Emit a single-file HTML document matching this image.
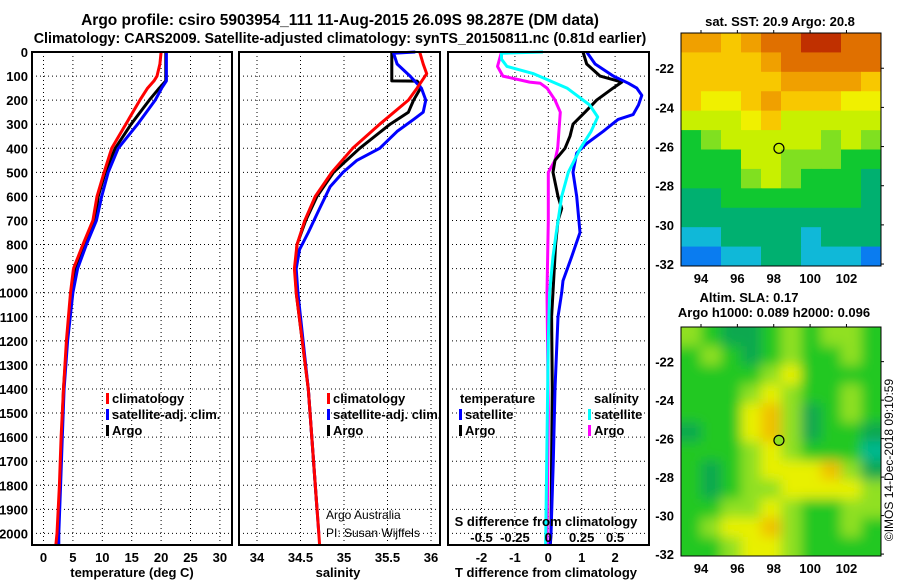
<!DOCTYPE html>
<html><head><meta charset="utf-8"><style>
body{margin:0;background:#fff;}
svg{display:block;font-family:"Liberation Sans",sans-serif;}
.b{font-weight:bold;font-size:13px;}
.t{font-weight:bold;font-size:14px;}
</style></head><body>
<svg id="c" width="900" height="580" viewBox="0 0 900 580">
<text class="t" x="340" y="25" text-anchor="middle" style="font-size:15.5px">Argo profile: csiro 5903954_111 11-Aug-2015 26.09S 98.287E (DM data)</text>
<text class="t" x="340" y="43" text-anchor="middle" style="font-size:14.3px">Climatology: CARS2009. Satellite-adjusted climatology: synTS_20150811.nc (0.81d earlier)</text>
<g id="plots"></g>
</svg>
<script>
// ---------- profile data ----------
const tDepth=[0,50,100,120,150,200,300,400,500,600,700,800,900,1000,1200,1400,1600,1800,2000,2050];
const tClim=[20.0,19.8,19.3,18.8,17.7,16.4,14.0,11.6,10.3,9.1,8.4,6.7,5.1,4.6,3.9,3.4,3.0,2.7,2.3,2.1];
const tSat=[20.9,20.9,20.9,20.9,20.1,19.0,16.0,12.7,11.0,9.9,9.0,7.3,5.8,5.0,4.1,3.5,3.2,2.9,2.6,2.6];
const tArgo=[20.8,20.8,20.8,20.8,19.7,18.0,14.9,12.2,10.5,9.3,8.8,6.9,5.4,4.8,4.0,3.4,3.1,2.8,2.5,2.5];
const sClimDepth=[0,50,90,150,200,300,400,500,600,700,800,900,1000,1400,2000,2050];
const sClim=[35.87,35.91,35.95,35.84,35.74,35.41,35.10,34.86,34.67,34.55,34.46,34.43,34.45,34.59,34.71,34.72];
const sSatDepth=[0,5,50,100,150,200,250,280,330,400,450,500,560,650,750,820,900,1000,1400,2000];
const sSat=[35.82,35.57,35.61,35.76,35.89,35.94,35.91,35.80,35.61,35.41,35.15,34.99,34.84,34.72,34.59,34.49,34.45,34.47,34.59,34.71];
const sArgoDepth=[0,120,121,130,150,200,250,300,400,500,600,700,800,900,1000,1400,1900];
const sArgo=[35.55,35.55,35.84,35.86,35.88,35.80,35.74,35.53,35.18,34.88,34.69,34.56,34.46,34.44,34.45,34.59,34.69];
const dTSatDepth=[0,50,100,130,150,180,220,260,280,330,380,420,500,600,750,850,950,1000,1100,1400,1700,2000,2050];
const dTSat=[1.15,1.40,1.95,2.40,2.65,2.80,2.70,2.54,2.09,1.64,1.15,0.85,0.74,0.85,0.95,0.70,0.44,0.40,0.29,0.20,0.15,0.08,0.05];
const dTArgoDepth=[0,50,100,125,150,200,250,300,350,400,450,500,600,650,700,800,900,1100,1400,1700,2000,2050];
const dTArgo=[1.04,1.15,1.55,2.2,1.94,1.45,1.10,0.74,0.65,0.50,0.20,0.14,0.29,0.40,0.29,0.22,0.18,0.10,0.12,0.10,0.08,0.06];
const dSSatDepth=[0,5,30,60,90,150,220,270,330,400,500,600,750,850,1000,1200,2050];
const dSSat=[-0.04,-0.35,-0.35,-0.31,-0.11,0.14,0.31,0.37,0.32,0.24,0.15,0.10,0.06,0.035,0.01,0.0,-0.02];
const dSArgoDepth=[0,60,100,125,130,150,200,250,400,450,500,700,1000,1500,2050];
const dSArgo=[-0.35,-0.38,-0.34,-0.14,-0.06,-0.01,0.05,0.09,0.07,0.05,0.0,0.0,-0.01,0.0,-0.01];
const depthTicks=[0,100,200,300,400,500,600,700,800,900,1000,1100,1200,1300,1400,1500,1600,1700,1800,1900,2000];
const tTicks=[0,5,10,15,20,25,30];
const sTicks=[34,34.5,35,35.5,36];
const dtTicks=[-2,-1,0,1,2];
const dsTicks=["-0.5","-0.25","0","0.25","0.5"];
// ---------- map data ----------
const sstGrid=[
[9,9,8,9,10,10,11,11,10,10],
[8,8,8,8,9,10,10,10,10,10],
[8,8,8,8,8,9,9,9,9,8],
[8,7,7,8,9,8,8,8,7,7],
[6,6,6,7,8,6,6,6,6,6],
[4,5,6,6,6,6,6,5,6,5],
[4,4,4,6,6,5,5,5,4,4],
[4,4,4,5,6,5,4,4,4,3],
[3,3,4,4,4,4,4,4,4,3],
[3,3,3,3,3,3,3,3,3,3],
[2,2,3,3,3,3,2,3,3,3],
[1,1,2,2,3,3,2,2,2,1]];
const slaGrid=[
[3,2,1,1,2,3,2,3,3,2],
[2,3,2,1,2,3,2,2,3,2],
[2,2,2,2,3,4,2,2,2,2],
[2,2,2,3,4,3,2,2,3,2],
[2,2,2,4,5,3,1,2,3,2],
[1,2,2,4,5,3,1,2,2,1],
[2,2,2,3,4,3,2,2,2,0],
[2,1,2,3,4,4,4,5,3,1],
[2,1,2,3,3,4,4,4,4,3],
[2,2,3,3,4,3,2,2,3,3],
[2,3,4,4,5,3,2,2,3,2],
[2,2,3,4,4,3,2,2,2,2]];
const latTicks=[-22,-24,-26,-28,-30,-32];
const lonTicks=[94,96,98,100,102];
const argoLat=-26.09, argoLon=98.287;

const NS="http://www.w3.org/2000/svg";
const root=document.getElementById('plots');
function el(tag,attrs,parent,text){const e=document.createElementNS(NS,tag);for(const k in attrs)e.setAttribute(k,attrs[k]);if(text!==undefined)e.textContent=text;(parent||root).appendChild(e);return e;}
const yD=d=>52+d*0.2407;
const yTop=52,yBot=545;
function panel(name){
  const g=el('g',{});
  
  
  return g;
}
function grid(g,x0,x1,xs){
  depthTicks.forEach(d=>{const l=el('line',{x1:x0,x2:x1,y1:yD(d),y2:yD(d),stroke:'#000','stroke-width':1,'stroke-dasharray':'1,3'},g);
  });
  xs.forEach(x=>{const l=el('line',{x1:x,x2:x,y1:yTop,y2:yBot,stroke:'#000','stroke-width':1,'stroke-dasharray':'1,3'},g);
  });
}
function frame(g,x0,x1){const r=el('rect',{x:x0,y:yTop,width:x1-x0,height:yBot-yTop,fill:'none',stroke:'#000','stroke-width':2},g);
}
function line(g,vals,depths,xf,color,name){
  const pts=vals.map((v,i)=>xf(v).toFixed(1)+','+yD(depths[i]).toFixed(1)).join(' ');
  const p=el('polyline',{points:pts,fill:'none',stroke:color,'stroke-width':3,'stroke-linejoin':'round'},g);
  
}
function txt(g,x,y,s,name,anchor,cls,fill){const t=el('text',{x:x,y:y,'text-anchor':anchor||'start',class:cls||'b',fill:fill||'#000'},g,s);
return t;}
function legend(g,x,y,color,label,name){
  const r=el('rect',{x:x,y:y-10,width:3,height:11,fill:color},g);
  
  txt(g,x+6,y,label,name);
}
// Panel 1 temperature
const xT=v=>43.5+v*5.88;
let g1=panel('temperature-panel');
grid(g1,32,232,tTicks.map(xT));
line(g1,tArgo,tDepth,xT,'#000','argo-temperature-line');
line(g1,tSat,tDepth,xT,'#0000ff','satellite-temperature-line');
line(g1,tClim,tDepth,xT,'#ff0000','climatology-temperature-line');
frame(g1,32,232);
depthTicks.forEach(d=>{txt(g1,28,yD(d)+5,String(d),'depth-tick-label','end');});
tTicks.forEach(v=>txt(g1,xT(v),562,String(v),'temperature-tick-label','middle'));
txt(g1,132,577,'temperature (deg C)','temperature-axis-title','middle');
legend(g1,106,403,'#ff0000','climatology','legend-climatology');
legend(g1,106,419,'#0000ff','satellite-adj. clim.','legend-satellite-adj');
legend(g1,106,435,'#000','Argo','legend-argo');
// Panel 2 salinity
const xS=v=>257+(v-34)*87;
let g2=panel('salinity-panel');
grid(g2,239,440,sTicks.map(xS));
line(g2,sArgo,sArgoDepth,xS,'#000','argo-salinity-line');
line(g2,sSat,sSatDepth,xS,'#0000ff','satellite-salinity-line');
line(g2,sClim,sClimDepth,xS,'#ff0000','climatology-salinity-line');
frame(g2,239,440);
sTicks.forEach(v=>txt(g2,xS(v),562,String(v),'salinity-tick-label','middle'));
txt(g2,338,577,'salinity','salinity-axis-title','middle');
legend(g2,327,403,'#ff0000','climatology','legend-climatology-s');
legend(g2,327,419,'#0000ff','satellite-adj. clim.','legend-satellite-adj-s');
legend(g2,327,435,'#000','Argo','legend-argo-s');
const a1=txt(g2,326,519,'Argo Australia','credit-argo-australia','start','');a1.setAttribute('style','font-size:12px;font-weight:normal');
const a2=txt(g2,326,537,'PI: Susan Wijffels','credit-pi','start','');a2.setAttribute('style','font-size:12px;font-weight:normal');
// Panel 3 differences
const xdT=v=>548.3+v*33.4;
const xdS=v=>548.3+v*133.6;
let g3=panel('difference-panel');
grid(g3,448,649,dtTicks.map(xdT));
line(g3,dSArgo,dSArgoDepth,xdS,'#ff00ff','argo-salinity-diff-line');
line(g3,dTArgo,dTArgoDepth,xdT,'#000','argo-temperature-diff-line');
line(g3,dTSat,dTSatDepth,xdT,'#0000ff','satellite-temperature-diff-line');
line(g3,dSSat,dSSatDepth,xdS,'#00ffff','satellite-salinity-diff-line');
frame(g3,448,649);
dtTicks.forEach(v=>txt(g3,xdT(v),562,String(v),'t-diff-tick-label','middle'));
dsTicks.forEach(v=>txt(g3,xdS(parseFloat(v)),542,v,'s-diff-tick-label','middle'));
txt(g3,546,526,'S difference from climatology','s-diff-axis-title','middle');
txt(g3,546,577,'T difference from climatology','t-diff-axis-title','middle');
txt(g3,460,403,'temperature','legend-temperature-header');
legend(g3,459,419,'#0000ff','satellite','legend-t-satellite');
legend(g3,459,435,'#000','Argo','legend-t-argo');
txt(g3,594,403,'salinity','legend-salinity-header');
legend(g3,588,419,'#00ffff','satellite','legend-s-satellite');
legend(g3,588,435,'#ff00ff','Argo','legend-s-argo');
// ---------- maps ----------
const sstColors=['#0040e0','#0a7cf0','#10b8d8','#00b070','#10c830','#80e020','#c8f000','#f0f000','#f8c800','#f0a000','#e07000','#c03000'];
const slaColors=['#00b890','#10a850','#20c820','#90e020','#e8f000','#f0c000'];
const latTop=-20.2, latBot=-32.1, lonL=92.9, lonR=103.9;
function map(x0,y0,w,h,gridv,colors,name,blur){
  const g=el('g',{});
  
  const cid='clip'+name;
  const cp=el('clipPath',{id:cid},g);el('rect',{x:x0,y:y0,width:w,height:h},cp);
  const inner=el('g',{'clip-path':'url(#'+cid+')'},g);
  let target=inner;
  if(blur){const f=el('filter',{id:'f'+name,x:'-10%',y:'-10%',width:'120%',height:'120%'},g);el('feGaussianBlur',{stdDeviation:6},f);
    target=el('g',{filter:'url(#f'+name+')'},inner);}
  const rows=gridv.length,cols=gridv[0].length,cw=w/cols,ch=h/rows;
  gridv.forEach((row,r)=>row.forEach((v,c)=>{
    const ex=blur?(c===0?-12:0):0, ey=blur?(r===0?-12:0):0;
    const ew=blur?((c===cols-1)?12:0):0, eh=blur?((r===rows-1)?12:0):0;
    const cell=el('rect',{x:x0+c*cw+ex,y:y0+r*ch+ey,width:cw+0.6-ex+ew,height:ch+0.6-ey+eh,fill:colors[v]},target);
    
  }));
  const lat=v=>y0+(latTop-v)/(latTop-latBot)*h;
  const lon=v=>x0+(v-lonL)/(lonR-lonL)*w;
  const r=el('rect',{x:x0,y:y0,width:w,height:h,fill:'none',stroke:'#000','stroke-width':1},g);
  
  latTicks.forEach(v=>{txt(g,674,lat(v)+5,String(v),'map-lat-label','end');
    el('line',{x1:x0+w,x2:x0+w+3,y1:lat(v),y2:lat(v),stroke:'#000'},g);});
  lonTicks.forEach(v=>{txt(g,lon(v),y0+h+17,String(v),'map-lon-label','middle');
    el('line',{x1:lon(v),x2:lon(v),y1:y0,y2:y0-3,stroke:'#000'},g);});
  const m=el('circle',{cx:lon(argoLon),cy:lat(argoLat),r:5,fill:blur?'#90e020':'none',stroke:'#000','stroke-width':1.2},g);
  
}
map(681,33,200,233,sstGrid,sstColors,'sst-map',false);
map(681,327,200,229,slaGrid,slaColors,'sla-map',true);
txt(root,780,26,'sat. SST: 20.9 Argo: 20.8','sst-map-title','middle');
txt(root,749,302,'Altim. SLA: 0.17','sla-map-title','middle');
txt(root,774,317,'Argo h1000: 0.089 h2000: 0.096','sla-map-subtitle','middle');
const cr=txt(root,0,0,'©IMOS 14-Dec-2018 09:10:59','imos-credit','middle');
cr.setAttribute('style','font-size:12px;font-weight:normal');
cr.setAttribute('transform','translate(893,460) rotate(-90)');
</script>
</body></html>
